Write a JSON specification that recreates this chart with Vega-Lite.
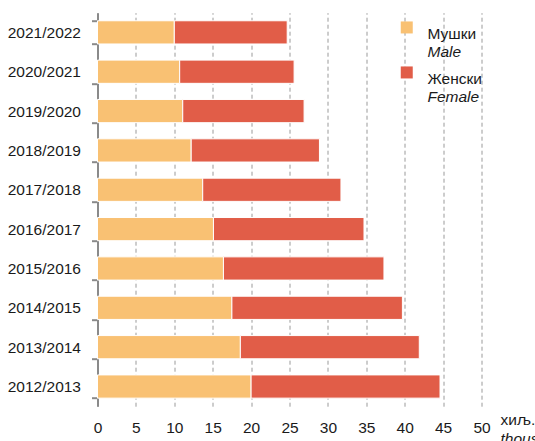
{
  "$schema": "https://vega.github.io/schema/vega-lite/v6.json",
  "width": 384,
  "height": 393.5,
  "autosize": {"type": "none"},
  "padding": {"left": 97.5, "top": 12.7, "right": 53.5, "bottom": 34.8},
  "config": {
    "view": {"stroke": null},
    "font": "Liberation Sans",
    "legend": {"padding": 0}
  },
  "data": {
    "values": [
      {"year": "2021/2022", "sex": "Мушки", "en": "Male", "v": 10.0},
      {"year": "2021/2022", "sex": "Женски", "en": "Female", "v": 14.7},
      {"year": "2020/2021", "sex": "Мушки", "en": "Male", "v": 10.7},
      {"year": "2020/2021", "sex": "Женски", "en": "Female", "v": 14.9},
      {"year": "2019/2020", "sex": "Мушки", "en": "Male", "v": 11.1},
      {"year": "2019/2020", "sex": "Женски", "en": "Female", "v": 15.8},
      {"year": "2018/2019", "sex": "Мушки", "en": "Male", "v": 12.2},
      {"year": "2018/2019", "sex": "Женски", "en": "Female", "v": 16.7},
      {"year": "2017/2018", "sex": "Мушки", "en": "Male", "v": 13.7},
      {"year": "2017/2018", "sex": "Женски", "en": "Female", "v": 18.0},
      {"year": "2016/2017", "sex": "Мушки", "en": "Male", "v": 15.1},
      {"year": "2016/2017", "sex": "Женски", "en": "Female", "v": 19.6},
      {"year": "2015/2016", "sex": "Мушки", "en": "Male", "v": 16.4},
      {"year": "2015/2016", "sex": "Женски", "en": "Female", "v": 20.9},
      {"year": "2014/2015", "sex": "Мушки", "en": "Male", "v": 17.5},
      {"year": "2014/2015", "sex": "Женски", "en": "Female", "v": 22.2},
      {"year": "2013/2014", "sex": "Мушки", "en": "Male", "v": 18.6},
      {"year": "2013/2014", "sex": "Женски", "en": "Female", "v": 23.3},
      {"year": "2012/2013", "sex": "Мушки", "en": "Male", "v": 20.0},
      {"year": "2012/2013", "sex": "Женски", "en": "Female", "v": 24.6}
    ]
  },
  "mark": {"type": "bar", "stroke": "white", "strokeWidth": 1},
  "encoding": {
    "y": {
      "field": "year",
      "type": "nominal",
      "sort": "descending",
      "scale": {"paddingInner": 0.41, "paddingOuter": 0.205},
      "axis": {
        "title": "thous",
        "titleFontStyle": "italic",
        "titleFontWeight": "normal",
        "titleFontSize": 15.5,
        "titleColor": "#1a1a1a",
        "titleAngle": 0,
        "titleAlign": "left",
        "titleBaseline": "alphabetic",
        "titleX": 402.5,
        "titleY": 431,
        "domainColor": "#8a8a8a",
        "domainWidth": 2,
        "tickColor": "#8a8a8a",
        "tickWidth": 2,
        "tickSize": 6,
        "tickBand": "extent",
        "labelFontSize": 15.5,
        "labelPadding": 11,
        "labelColor": "#1a1a1a",
        "grid": false
      }
    },
    "x": {
      "field": "v",
      "type": "quantitative",
      "stack": "zero",
      "scale": {"domain": [0, 50]},
      "axis": {
        "values": [0, 5, 10, 15, 20, 25, 30, 35, 40, 45, 50],
        "title": "хиљ.",
        "titleFontWeight": "normal",
        "titleFontSize": 15.5,
        "titleColor": "#1a1a1a",
        "titleAlign": "left",
        "titleBaseline": "alphabetic",
        "titleX": 402.5,
        "titleY": 18,
        "domain": false,
        "ticks": false,
        "tickSize": 0,
        "labelPadding": 14,
        "labelFontSize": 15.5,
        "labelColor": "#1a1a1a",
        "labelBaseline": "top",
        "labelFlush": false,
        "grid": true,
        "gridDash": [4, 3],
        "gridColor": "#9a9a9a",
        "gridWidth": 1
      }
    },
    "color": {
      "field": "sex",
      "type": "nominal",
      "scale": {"domain": ["Мушки", "Женски"], "range": ["#F9C173", "#E15D48"]},
      "legend": {
        "orient": "none",
        "legendX": 301.5,
        "legendY": 7,
        "zindex": 2,
        "title": null,
        "labelExpr": "[datum.label, ' ']",
        "labelFontSize": 15.5,
        "labelLineHeight": 19.5,
        "labelBaseline": "top",
        "labelOffset": 13,
        "labelColor": "#1a1a1a",
        "symbolType": "square",
        "symbolSize": 144,
        "symbolStrokeWidth": 0,
        "symbolOpacity": 1,
        "rowPadding": 4
      }
    },
    "opacity": {
      "field": "en",
      "type": "nominal",
      "scale": {"domain": ["Male", "Female"], "range": [1, 1]},
      "legend": {
        "orient": "none",
        "legendX": 301.5,
        "legendY": 7,
        "zindex": 1,
        "title": null,
        "labelExpr": "[' ', datum.label]",
        "labelFontSize": 15.5,
        "labelFontStyle": "italic",
        "labelLineHeight": 19.5,
        "labelBaseline": "top",
        "labelOffset": 13,
        "labelColor": "#1a1a1a",
        "symbolType": "square",
        "symbolSize": 144,
        "symbolStrokeWidth": 0,
        "symbolFillColor": "transparent",
        "symbolOpacity": 0,
        "rowPadding": 4
      }
    },
    "order": {"field": "sex", "sort": "descending"}
  }
}
